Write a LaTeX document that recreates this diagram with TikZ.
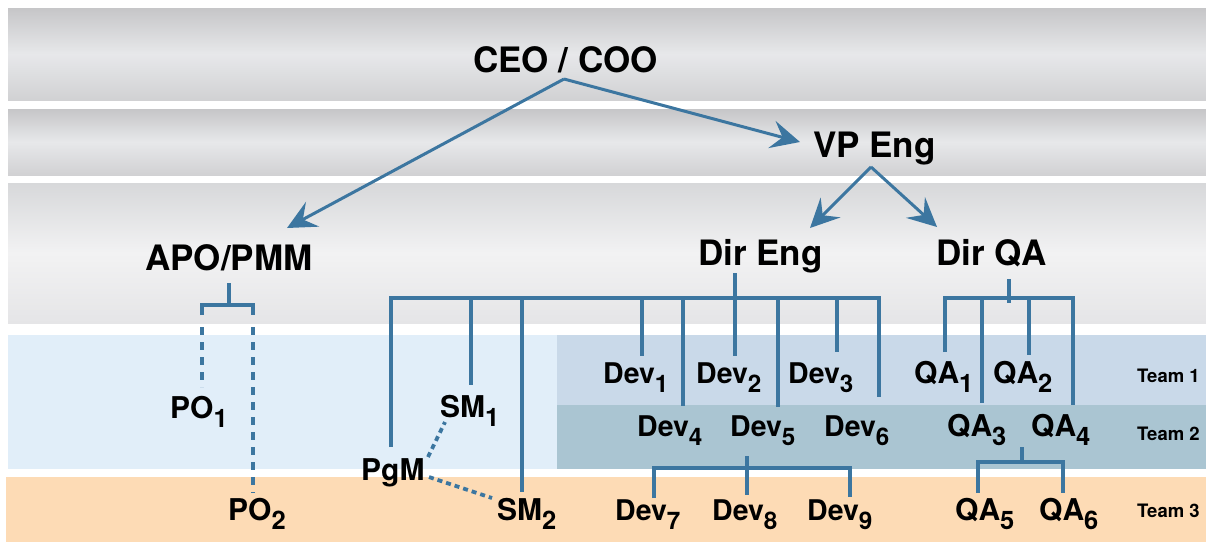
\documentclass[tikz,border=0pt]{standalone}
\usepackage{fontspec}
\setmainfont{TeX Gyre Heros}
\usepackage{graphicx}
\usetikzlibrary{arrows.meta}
\definecolor{ln}{HTML}{3C76A0}
\definecolor{gA}{HTML}{C6C6C8}
\definecolor{gB}{HTML}{E7E8EA}
\definecolor{gC}{HTML}{D1D1D3}
\definecolor{gD}{HTML}{D7D8DA}
\definecolor{gE}{HTML}{F2F2F3}
\definecolor{gF}{HTML}{E5E5E7}
\definecolor{lblue}{HTML}{E1EEF9}
\definecolor{teamone}{HTML}{C9D9E9}
\definecolor{teamtwo}{HTML}{AAC5D2}
\definecolor{orng}{HTML}{FDDBB5}
\newcommand\sbs[1]{\raisebox{-0.33em}{\scalebox{0.85}{#1}}}
\begin{document}
\begin{tikzpicture}[x=1pt,y=-1pt,
 big/.style={font=\fontsize{35}{35}\selectfont\bfseries, inner sep=0pt, anchor=base west},
 lbl/.style={font=\fontsize{30}{30}\selectfont\bfseries, inner sep=0pt, anchor=base west},
 devl/.style={font=\fontsize{28.5}{28.5}\selectfont\bfseries, inner sep=0pt, anchor=base west},
 team/.style={font=\fontsize{18.5}{18.5}\selectfont\bfseries, inner sep=0pt, anchor=base west},
 arr/.style={draw=ln, line width=3pt, -{Stealth[length=29pt,width=28pt,inset=11pt]}},
 brk/.style={draw=ln, line width=3.8pt},
 dsh/.style={draw=ln, line width=3.8pt, dash pattern=on 8pt off 7pt},
 dotl/.style={draw=ln, line width=3.8pt, dash pattern=on 5pt off 4pt},
]
\useasboundingbox (0,0) rectangle (1206,542);
% bands
\shade[top color=gA, bottom color=gC, middle color=gB] (8,8) rectangle (1206,100);
\shade[top color=gA, bottom color=gC, middle color=gB] (8,109) rectangle (1206,175);
\shade[top color=gD, bottom color=gF, middle color=gE] (8,183) rectangle (1206,323);
\fill[lblue] (8,335) rectangle (1206,469);
\fill[teamone] (557,335) rectangle (1206,405);
\fill[teamtwo] (557,405) rectangle (1206,469);
\fill[orng] (6,477) rectangle (1206,542);

% labels
\node[big] (ceo) at (473,72) {CEO / COO};
\node[big] (vp) at (813,157) {VP Eng};
\node[big] (apo) at (145,270) {APO/PMM};
\node[big] (dire) at (698,265) {Dir Eng};
\node[big] (dirq) at (936,265) {Dir QA};

\node[devl] (dev1) at (603,383) {Dev\sbs{1}};
\node[devl] (dev2) at (696,383) {Dev\sbs{2}};
\node[devl] (dev3) at (788,383) {Dev\sbs{3}};
\node[devl] (dev4) at (637,436) {Dev\sbs{4}};
\node[devl] (dev5) at (730,436) {Dev\sbs{5}};
\node[devl] (dev6) at (824,436) {Dev\sbs{6}};
\node[devl] (dev7) at (615,520) {Dev\sbs{7}};
\node[devl] (dev8) at (712,520) {Dev\sbs{8}};
\node[devl] (dev9) at (807,520) {Dev\sbs{9}};

\node[lbl] (qa1) at (914,383) {QA\sbs{1}};
\node[lbl] (qa2) at (993,383) {QA\sbs{2}};
\node[lbl] (qa3) at (947,436) {QA\sbs{3}};
\node[lbl] (qa4) at (1031,436) {QA\sbs{4}};
\node[lbl] (qa5) at (955,520) {QA\sbs{5}};
\node[lbl] (qa6) at (1039,520) {QA\sbs{6}};

\node[lbl] (po1) at (170,418) {PO\sbs{1}};
\node[lbl] (po2) at (228,520) {PO\sbs{2}};
\node[lbl] (sm1) at (440,417) {SM\sbs{1}};
\node[lbl] (sm2) at (497,520) {SM\sbs{2}};
\node[lbl] (pgm) at (361,480) {PgM};

\node[team] (t1) at (1137,382) {Team 1};
\node[team] (t2) at (1137,440) {Team 2};
\node[team] (t3) at (1137,517) {Team 3};

% arrow coordinates
\coordinate (ceoA) at (564,79);
\coordinate (vpT) at (800,142);
\coordinate (apoT) at (287,228);
\coordinate (vpA) at (871,167);
\coordinate (direT) at (810,228);
\coordinate (dirqT) at (937,227);
\draw[arr] (ceoA) -- (vpT);
\draw[arr] (ceoA) -- (apoT);
\draw[arr] (vpA) -- (direT);
\draw[arr] (vpA) -- (dirqT);

% Dir Eng bracket
\coordinate (deS) at (735,273);
\coordinate (deJ) at (735,298);
\coordinate (pgmE) at (391,447);
\coordinate (sm1E) at (471,385);
\coordinate (sm2E) at (522,492);
\coordinate (d1E) at (642,356);
\coordinate (d4E) at (683,406);
\coordinate (d2E) at (735,356);
\coordinate (d5E) at (778,407);
\coordinate (d3E) at (837,352);
\coordinate (d6E) at (879,397);
\draw[brk] (deS) -- (deJ);
\draw[brk] (pgmE) |- (d6E |- deJ) -- (d6E);
\foreach \e in {sm1E,sm2E,d1E,d4E,d2E,d5E,d3E} \draw[brk] (\e |- deJ) -- (\e);

% Dir QA bracket
\coordinate (dqS) at (1009,279);
\coordinate (dqJ) at (1009,298);
\coordinate (dqB) at (1009,303);
\coordinate (q1E) at (945,352);
\coordinate (q3E) at (982,403);
\coordinate (q2E) at (1029,355);
\coordinate (q4E) at (1073,405);
\draw[brk] (dqS) -- (dqB);
\draw[brk] (q1E) |- (q4E |- dqJ) -- (q4E);
\draw[brk] (q3E |- dqJ) -- (q3E);
\draw[brk] (q2E |- dqJ) -- (q2E);

% Dev7-9 bracket
\coordinate (d5S) at (747,456);
\coordinate (d5J) at (747,468);
\coordinate (d7E) at (654,498);
\coordinate (d8E) at (747,495);
\coordinate (d9E) at (850,497);
\draw[brk] (d5S) -- (d5J);
\draw[brk] (d7E) |- (d9E |- d5J) -- (d9E);
\draw[brk] (d8E |- d5J) -- (d8E);

% QA5-6 bracket
\coordinate (q3S) at (1022,447);
\coordinate (q3J) at (1022,462);
\coordinate (q5E) at (978,493);
\coordinate (q6E) at (1063,493);
\draw[brk] (q3S) -- (q3J);
\draw[brk] (q5E) |- (q6E |- q3J) -- (q6E);

% APO bracket
\coordinate (apS) at (229,283);
\coordinate (apJ) at (229,305);
\coordinate (p1C) at (202,315);
\coordinate (p2C) at (253,315);
\coordinate (p1D) at (202,327);
\coordinate (p2D) at (253,327);
\coordinate (p1E) at (202,387);
\coordinate (p2E) at (253,493);
\draw[brk] (apS) -- (apJ);
\draw[brk] (p1C) |- (p2C |- apJ) -- (p2C);
\draw[dsh] (p1D) -- (p1E);
\draw[dsh] (p2D) -- (p2E);

% PgM dotted links
\coordinate (pg1) at (428,457);
\coordinate (s1L) at (445,422);
\coordinate (pg2) at (429,477);
\coordinate (s2L) at (492,498);
\draw[dotl] (pg1) -- (s1L);
\draw[dotl] (pg2) -- (s2L);
\end{tikzpicture}
\end{document}
